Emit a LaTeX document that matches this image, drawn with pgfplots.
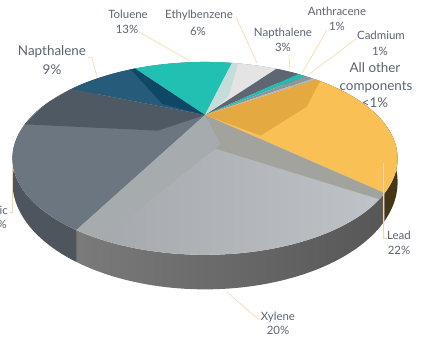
\documentclass[border=0pt]{standalone}
\usepackage{pgfplots}
\usepackage{pgfplotstable}
\pgfplotsset{compat=1.18}
\usepackage{fontspec}
\setmainfont{Lato}

\definecolor{cEth}{HTML}{E4E4E4}
\definecolor{cNa3}{HTML}{5E6771}
\definecolor{cAnt}{HTML}{22BDB1}
\definecolor{cCad}{HTML}{8F959C}
\definecolor{cOth}{HTML}{B3B8BD}
\definecolor{cLea}{HTML}{F9C155}
\definecolor{cXyl}{HTML}{B9BEC2}
\definecolor{cArs}{HTML}{6C7681}
\definecolor{cNa9}{HTML}{265B79}
\definecolor{cTol}{HTML}{22BFB3}
\definecolor{labc}{HTML}{5B6371}
\definecolor{leadc}{HTML}{F6D6A6}
\definecolor{bArs}{HTML}{4F5964}
\definecolor{bNa9}{HTML}{0E4864}
\definecolor{bLX}{HTML}{A2A39D}
\definecolor{bXA}{HTML}{A6ABAE}
\definecolor{bLea}{HTML}{E4AA41}
\definecolor{bEth}{HTML}{C4DCDA}

% share of each slice, clockwise from the top
\pgfplotstableread{
name val
Ethylbenzene 6
Napthalene3 3
Anthracene 1
Cadmium 1
Other 0.5
Lead 22
Xylene 20
Arsenic 24
Napthalene9 9
Toluene 13
}\piedata

\def\startangle{77}
\newcommand\computeangles{%
  \gdef\tot{0}%
  \foreach \i in {0,...,9}{%
    \pgfplotstablegetelem{\i}{val}\of\piedata
    \pgfmathparse{\tot+\pgfplotsretval}\xdef\tot{\pgfmathresult}}%
  \gdef\cum{0}%
  \foreach \i in {0,...,9}{%
    \pgfplotstablegetelem{\i}{val}\of\piedata
    \pgfmathparse{\startangle-(\cum/\tot)*360}\expandafter\xdef\csname aS\i\endcsname{\pgfmathresult}%
    \pgfmathparse{\cum+\pgfplotsretval}\xdef\cum{\pgfmathresult}%
    \pgfmathparse{\startangle-(\cum/\tot)*360}\expandafter\xdef\csname aE\i\endcsname{\pgfmathresult}%
  }}

% point of the top face at radius #2, angle #3
\newcommand\setpt[3]{%
  \pgfmathsetmacro\tmpd{1+0.45*sin(#3)}%
  \pgfmathsetmacro\tmpx{205+#2*172*cos(#3)/\tmpd}%
  \pgfmathsetmacro\tmpy{232+#2*76.9*sin(#3)/\tmpd}%
  \expandafter\xdef\csname #1x\endcsname{\tmpx}%
  \expandafter\xdef\csname #1y\endcsname{\tmpy}}
% shaded band next to a slice boundary (the cut face seen through the top)
\newcommand\band[8]{%
  \setpt{#1a}{1}{#2}%
  \setpt{#1m}{1}{#2+(#3)*(#4)/2}%
  \setpt{#1b}{1}{#2+(#3)*(#4)}%
  \setpt{#1c}{#5}{#2+(#3)*(#6)}%
  \setpt{#1d}{#7}{#2+(#3)*(#8)}}
\newcommand\drawband[2]{%
  \edef\tmpplot{\noexpand\addplot[fill=#2, draw=none] coordinates {(205,232)
   (\csname #1ax\endcsname,\csname #1ay\endcsname)
   (\csname #1mx\endcsname,\csname #1my\endcsname)
   (\csname #1bx\endcsname,\csname #1by\endcsname)
   (\csname #1cx\endcsname,\csname #1cy\endcsname)
   (\csname #1dx\endcsname,\csname #1dy\endcsname)};}\tmpplot}

\pgfplotsset{
  top0/.style={fill=cEth}, top1/.style={fill=cNa3}, top2/.style={fill=cAnt},
  top3/.style={fill=cCad}, top4/.style={fill=cOth}, top5/.style={fill=cLea},
  top6/.style={left color=cXyl!88!black, right color=cXyl!92!white},
  top7/.style={fill=cArs}, top8/.style={fill=cNa9}, top9/.style={fill=cTol},
  wall0/.style={fill=cEth!60!black}, wall1/.style={fill=cNa3!60!black}, wall2/.style={fill=cAnt!60!black},
  wall3/.style={fill=cCad!60!black}, wall4/.style={fill=cOth!60!black}, wall5/.style={fill=black!72!cLea},
  wall6/.style={left color=black!52, right color=black!66},
  wall7/.style={fill=cArs!72!black}, wall8/.style={fill=cNa9!70!black}, wall9/.style={fill=cTol!60!black},
}

\begin{document}
\computeangles
\band{ba}{\csname aE7\endcsname}{1}{30}{0.25}{60}{0.25}{60}% Napthalene 9% / Arsenic
\band{bb}{\csname aE8\endcsname}{1}{2}{0.35}{26}{0.2}{26}% Toluene / Napthalene 9%
\band{bc}{\csname aE5\endcsname}{-1}{3}{0.22}{45}{0.22}{45}% Lead / Xylene
\band{bd}{\csname aE6\endcsname}{1}{6}{0.22}{40}{0.22}{40}% Xylene / Arsenic
\band{be}{\csname aS5\endcsname}{-1}{2}{0.65}{25}{0.3}{75}% small slices / Lead
\band{bf}{\csname aS0\endcsname}{-1}{3}{0.4}{16}{0.25}{18}% Toluene / Ethylbenzene
\begin{tikzpicture}[lab/.style={text=labc, font=\fontsize{11.5}{13}\selectfont, inner sep=0pt},
  labL/.style={text=labc, font=\fontsize{13.5}{15}\selectfont, inner sep=0pt},
  lead/.style={draw=leadc, line width=0.6pt}]
\begin{axis}[x=1bp, y=1bp, xmin=0, xmax=424, ymin=0, ymax=347, hide axis, clip=false,
  declare function={
    uu(\t)=min(\t,1)-max(\t-1.2,0);
    zz(\t)=min(max((\t-1)/0.2,0),1);
    wx(\p)=205+172*cos(\p)/(1+0.45*sin(\p));
    wy(\p,\z)=232+(76.9*sin(\p)-19*\z)/(1+0.45*sin(\p));
    tx(\p,\r)=205+\r*172*cos(\p)/(1+0.45*sin(\p));
    ty(\p,\r)=232+\r*76.9*sin(\p)/(1+0.45*sin(\p));
  }]
\coordinate (ll) at (axis cs:0,0);
\coordinate (ur) at (axis cs:424,347);
% side walls
\pgfplotsinvokeforeach{0,...,9}{
  \addplot[wall#1, draw=none, domain=0:2.2, samples=133, variable=\t]
    ({wx(\csname aS#1\endcsname+(\csname aE#1\endcsname-\csname aS#1\endcsname)*uu(\t))},
     {wy(\csname aS#1\endcsname+(\csname aE#1\endcsname-\csname aS#1\endcsname)*uu(\t),zz(\t))});
}
% top faces
\pgfplotsinvokeforeach{0,...,9}{
  \addplot[top#1, draw=none, domain=0:1.1, samples=45, variable=\t]
    ({tx(\csname aS#1\endcsname+(\csname aE#1\endcsname-\csname aS#1\endcsname)*min(\t,1),1-min(max((\t-1)/0.05,0),1))},
     {ty(\csname aS#1\endcsname+(\csname aE#1\endcsname-\csname aS#1\endcsname)*min(\t,1),1-min(max((\t-1)/0.05,0),1))});
}
% cut faces seen through the tops
\drawband{ba}{bArs}
\drawband{bb}{bNa9}
\drawband{bc}{bLX}
\drawband{bd}{bXA}
\drawband{be}{bLea}
\drawband{bf}{bEth}
% leader lines
\draw[lead] (axis cs:139,315) -- (axis cs:190,286);
\draw[lead] (axis cs:236,330) -- (axis cs:257,284);
\draw[lead] (axis cs:289,292) -- (axis cs:290,277);
\draw[lead] (axis cs:327,317) -- (axis cs:302,274);
\draw[lead] (axis cs:356,308) -- (axis cs:308,272);
\draw[lead] (axis cs:88,290) -- (axis cs:92,289) -- (axis cs:97,270);
\draw[lead] (axis cs:10,135) -- (axis cs:12,135) -- (axis cs:12,180);
\draw[lead] (axis cs:387,109) -- (axis cs:383,109) -- (axis cs:383,184);
\draw[lead] (axis cs:262,28) -- (axis cs:258,28) -- (axis cs:227,55);
% labels
\node[lab] at (axis cs:128,333) {Toluene};
\node[lab] at (axis cs:127,318) {13\%};
\node[lab] at (axis cs:199,332) {Ethylbenzene};
\node[lab] at (axis cs:198,316) {6\%};
\node[lab] at (axis cs:283,314) {Napthalene};
\node[lab] at (axis cs:283,300) {3\%};
\node[lab] at (axis cs:337,336) {Anthracene};
\node[lab] at (axis cs:337,321) {1\%};
\node[lab] at (axis cs:381,312) {Cadmium};
\node[lab] at (axis cs:380,296) {1\%};
\node[labL] at (axis cs:375,279) {All other};
\node[labL] at (axis cs:376,260) {components};
\node[labL] at (axis cs:375,244) {<1\%};
\node[labL] at (axis cs:52,295) {Napthalene};
\node[labL] at (axis cs:52,277) {9\%};
\node[lab, anchor=east] at (axis cs:8,137) {Arsenic};
\node[lab, anchor=east] at (axis cs:7,123) {24\%};
\node[lab, anchor=west] at (axis cs:387,112) {Lead};
\node[lab] at (axis cs:399,97) {22\%};
\node[lab] at (axis cs:278,30) {Xylene};
\node[lab] at (axis cs:278,17) {20\%};
\end{axis}
\pgfresetboundingbox
\path[use as bounding box] (ll) rectangle (ur);
\end{tikzpicture}
\end{document}
